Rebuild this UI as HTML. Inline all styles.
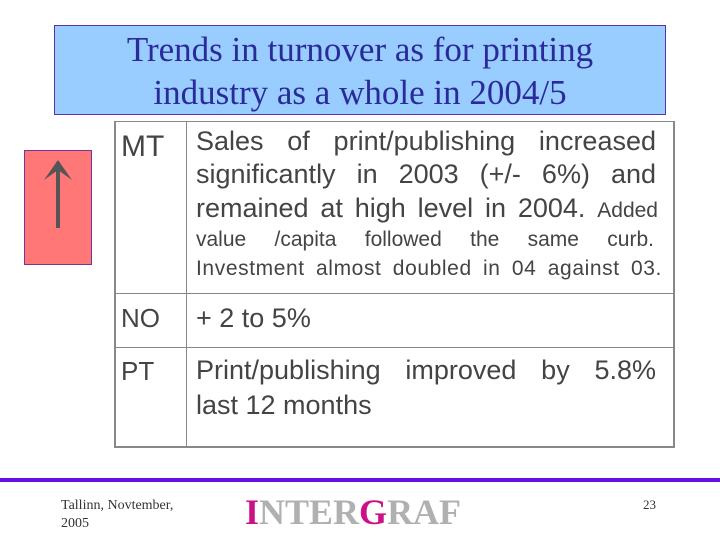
<!DOCTYPE html>
<html><head><meta charset="utf-8"><style>
body{margin:0;width:720px;height:540px;background:#fff;position:relative;overflow:hidden;font-family:"Liberation Sans",sans-serif;}
.a{position:absolute;}
.j{position:absolute;left:196px;width:460px;text-align:justify;text-align-last:justify;color:#444;white-space:nowrap;line-height:1;}
</style></head><body>
<div class="a" style="left:54px;top:25px;width:610px;height:88px;background:#99ccff;border:1px solid #5533aa;"></div>
<div class="a" style="left:54px;top:28px;width:612px;text-align:center;font-family:'Liberation Serif',serif;font-size:35px;line-height:43px;color:#2a2a99;">Trends in turnover as for printing<br>industry as a whole in 2004/5</div>
<div class="a" style="left:24px;top:150px;width:66px;height:113px;background:#ff7777;border:1px solid #773399;"></div>
<svg class="a" style="left:24px;top:150px" width="68" height="115"><line x1="34" y1="78" x2="34" y2="12" stroke="#555" stroke-width="4"/><path d="M20 30 L34 10 L48 30 L34 20 Z" fill="#555"/></svg>
<div class="a" style="left:114px;top:121px;width:557px;height:324px;border:2px solid #888;border-top-width:1px;"></div>
<div class="a" style="left:186px;top:121px;width:1px;height:326px;background:#888"></div>
<div class="a" style="left:114px;top:293px;width:559px;height:1px;background:#888"></div>
<div class="a" style="left:114px;top:347px;width:559px;height:1px;background:#888"></div>
<div class="a" style="left:121px;top:130px;font-size:30px;color:#444">MT</div>
<div class="j" style="top:128px;font-size:27px">Sales of print/publishing increased</div>
<div class="j" style="top:161px;font-size:27px">significantly in 2003 (+/- 6%) and</div>
<div class="j" style="top:195px;font-size:27px;width:462px">remained at high level in 2004. <span style="font-size:21px">Added</span></div>
<div class="j" style="top:229px;font-size:21px;width:458px">value /capita followed the same curb.</div>
<div class="j" style="top:258px;font-size:21px;width:466px;letter-spacing:0.6px">Investment almost doubled in 04 against 03.</div>
<div class="a" style="left:121px;top:303px;font-size:26px;color:#444">NO</div>
<div class="a" style="left:196px;top:303px;font-size:27px;color:#444">+ 2 to 5%</div>
<div class="a" style="left:121px;top:356px;font-size:26px;color:#444">PT</div>
<div class="j" style="top:357px;font-size:27px">Print/publishing improved by 5.8%</div>
<div class="a" style="left:196px;top:390px;font-size:27px;color:#444">last 12 months</div>
<div class="a" style="left:0;top:478px;width:720px;height:4px;background:#6611dd"></div>
<div class="a" style="left:61px;top:497px;font-family:'Liberation Serif',serif;font-size:14px;line-height:18px;color:#333">Tallinn, Novtember,<br>2005</div>
<div class="a" style="left:245px;top:491px;font-family:'Liberation Serif',serif;font-weight:bold;font-size:36px;color:#b0b0b0;"><span style="color:#cc1188">I</span>NTER<span style="color:#cc1188">G</span>RAF</div>
<div class="a" style="left:643px;top:497px;font-family:'Liberation Serif',serif;font-size:13px;color:#333">23</div>
</body></html>
